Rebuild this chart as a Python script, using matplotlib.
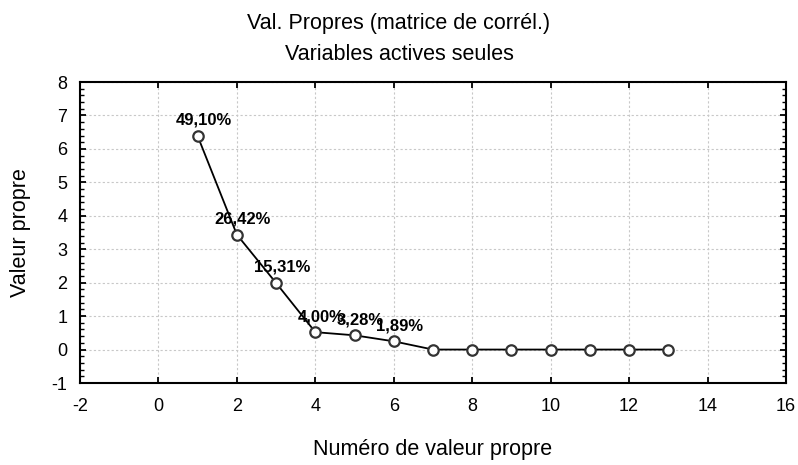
import matplotlib
matplotlib.use("Agg")
import matplotlib.pyplot as plt
from matplotlib.ticker import MultipleLocator, NullLocator

plt.rcParams['font.family'] = ['Liberation Sans', 'DejaVu Sans']
plt.rcParams['axes.unicode_minus'] = False

numbers = list(range(1, 14))
eigenvalues = [6.383, 3.435, 1.990, 0.520, 0.426, 0.246, 0.0, 0.0, 0.0, 0.0, 0.0, 0.0, 0.0]
pct_labels = ["49,10%", "26,42%", "15,31%", "4,00%", "3,28%", "1,89%"]

W, H = 798, 465
fig = plt.figure(figsize=(W / 100, H / 100), dpi=100)
ax = fig.add_axes([80 / W, 1 - 383 / H, 706 / W, 301 / H])

ax.plot(numbers, eigenvalues, color='black', lw=1.3, marker='o', ms=7.5,
        mfc='white', mec='#333333', mew=1.6, zorder=3)

for x, y, t in zip(numbers, eigenvalues, pct_labels):
    ax.annotate(t, (x, y), xytext=(4.3, 8), textcoords='offset points',
                ha='center', va='baseline', fontsize=12, fontweight='bold', zorder=4)

ax.set_xlim(-2, 16)
ax.set_ylim(-1, 8)
ax.xaxis.set_major_locator(MultipleLocator(2))
ax.xaxis.set_minor_locator(NullLocator())
ax.yaxis.set_major_locator(MultipleLocator(1))
ax.yaxis.set_minor_locator(MultipleLocator(0.2))
ax.grid(True, which='major', color='#c8c8c8', ls=(0, (2, 2)), lw=0.8)
ax.tick_params(which='both', direction='in', top=True, right=True, labelsize=13)
ax.tick_params(which='major', length=4, width=1.3)
ax.tick_params(which='minor', length=3, width=1.0)
ax.tick_params(axis='x', pad=11)
ax.tick_params(axis='y', pad=9)
for s in ax.spines.values():
    s.set_linewidth(1.5)

ax.set_xlabel("Numéro de valeur propre", fontsize=15.5, va='center')
ax.xaxis.set_label_coords(0.5, (383 - 450) / 301)
ax.set_ylabel("Valeur propre", fontsize=15.5, va='center')
ax.yaxis.set_label_coords((21 - 80) / 706, 0.5)
fig.text(0.5, 1 - 23 / H, "Val. Propres (matrice de corrél.)", ha='center', va='center', fontsize=15.5)
fig.text(0.5, 1 - 55 / H, "Variables actives seules", ha='center', va='center', fontsize=15.5)

fig.savefig("out.png", dpi=100)
